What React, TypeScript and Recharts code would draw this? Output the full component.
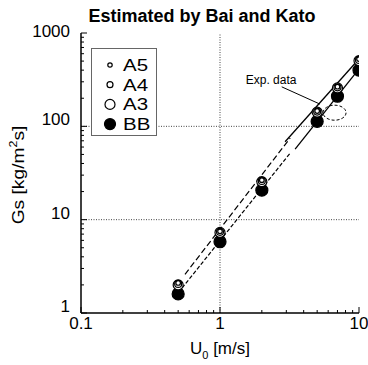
import React from "react";
import {
  ComposedChart,
  Legend,
  Line,
  ReferenceDot,
  ReferenceLine,
  XAxis,
  YAxis,
} from "recharts";

const FONT = "Arial, 'Liberation Sans', sans-serif";

// velocities U0 [m/s]
const U0 = [0.5, 1, 2, 5, 7, 10];
// mass flux Gs [kg/m2s]
const A5 = [2.1, 7.5, 26.5, 146, 266, 525];
const A4 = [2.05, 7.4, 26, 144, 262, 515];
const A3 = [2.0, 7.3, 25.5, 142, 258, 505];
const BB = [1.6, 5.8, 20.7, 113, 210, 400];

const X_TICKS = [0.1, 0.2, 0.3, 0.4, 0.5, 0.6, 0.7, 0.8, 0.9, 1, 2, 3, 4, 5, 6, 7, 8, 9, 10];
const Y_TICKS = [
  1, 2, 3, 4, 5, 6, 7, 8, 9, 10, 20, 30, 40, 50, 60, 70, 80, 90, 100, 200, 300, 400, 500,
  600, 700, 800, 900, 1000,
];
const X_LABELS = [0.1, 1, 10];
const Y_LABELS = [1, 10, 100, 1000];

// fitted correlation lines (end points)
const FIT_A_LOW = [{ x: 0.56, y: 2.6 }, { x: 3.2, y: 75 }];
const FIT_BB_LOW = [{ x: 0.533, y: 1.85 }, { x: 3.2, y: 51.7 }];
const FIT_A_HIGH = [{ x: 2.94, y: 68.4 }, { x: 9.84, y: 513 }];
const FIT_BB_HIGH = [{ x: 3.47, y: 57.1 }, { x: 9.84, y: 401 }];

// annotation
const EXP_LEADER = [{ x: 2.78, y: 265 }, { x: 5.24, y: 173 }];
const EXP_ELLIPSE = { x: 6.67, y: 140 };
const EXP_TEXT = { x: 2.33, y: 313, text: "Exp. data" };

const data = U0.map((u, i) => ({ u, a5: A5[i], a4: A4[i], a3: A3[i], bb: BB[i] }));

const SERIES = [
  { key: "a5", name: "A5", r: 2.3, lr: 2.2, fill: "#fff" },
  { key: "a4", name: "A4", r: 3.5, lr: 3, fill: "#fff" },
  { key: "a3", name: "A3", r: 5, lr: 5, fill: "#fff" },
  { key: "bb", name: "BB", r: 6, lr: 5.5, fill: "#000" },
];

const makeDot = (r: number, fill: string) => (p: any) => (
  <circle key={p.index} cx={p.cx} cy={p.cy} r={r} fill={fill} stroke="#000" strokeWidth={1.2} />
);

const isMajor = (v: number, list: number[]) => list.includes(v);

function BottomTick(p: any) {
  const v = p.payload.value;
  const major = isMajor(v, X_LABELS);
  return (
    <g>
      <line x1={p.x} y1={p.y} x2={p.x} y2={p.y - (major ? 6 : 3)} stroke="#000" />
      {major && (
        <text x={p.x} y={p.y + 16} textAnchor="middle" fontSize={17} fontFamily={FONT} fill="#000">
          {v}
        </text>
      )}
    </g>
  );
}

function TopTick(p: any) {
  const major = isMajor(p.payload.value, X_LABELS);
  return <line x1={p.x} y1={p.y} x2={p.x} y2={p.y + (major ? 6 : 3)} stroke="#000" />;
}

function LeftTick(p: any) {
  const v = p.payload.value;
  const major = isMajor(v, Y_LABELS);
  return (
    <g>
      <line x1={p.x} y1={p.y} x2={p.x + (major ? 6 : 3)} y2={p.y} stroke="#000" />
      {major && (
        <text
          x={p.x - 11}
          y={p.y + (v === 1000 ? 4 : -1)}
          textAnchor="end"
          fontSize={17}
          fontFamily={FONT}
          fill="#000"
        >
          {v}
        </text>
      )}
    </g>
  );
}

function RightTick(p: any) {
  const major = isMajor(p.payload.value, Y_LABELS);
  return <line x1={p.x} y1={p.y} x2={p.x - (major ? 6 : 3)} y2={p.y} stroke="#000" />;
}

function LegendBox() {
  const rowH = 19.7;
  return (
    <svg width={67} height={89} style={{ display: "block" }}>
      <rect x={0.5} y={0.5} width={65} height={87} fill="#fff" stroke="#666" strokeWidth={1} />
      {SERIES.map((s, i) => {
        const cy = 17 + i * rowH;
        return (
          <g key={s.key}>
            <circle cx={19} cy={cy} r={s.lr} fill={s.fill} stroke="#000" strokeWidth={1.2} />
            <text
              transform={`translate(32,${cy + 6}) scale(1.28,1)`}
              fontSize={16}
              fontFamily={FONT}
              fill="#000"
            >
              {s.name}
            </text>
          </g>
        );
      })}
    </svg>
  );
}

export default function App() {
  const axisLine = { stroke: "#000", strokeWidth: 1.5 };
  return (
    <div style={{ position: "absolute", left: 0, top: 0, width: 368, height: 365, background: "#fff" }}>
      <ComposedChart width={368} height={365} data={data} margin={{ top: 33, right: 9, bottom: 0, left: 0 }}>
        <XAxis
          dataKey="u"
          type="number"
          scale="log"
          domain={[0.1, 10]}
          ticks={X_TICKS}
          interval={0}
          tickSize={0}
          tickMargin={0}
          tickLine={false}
          tick={<BottomTick />}
          axisLine={axisLine}
          height={52}
          allowDataOverflow
        />
        <XAxis
          xAxisId="top"
          orientation="top"
          type="number"
          scale="log"
          domain={[0.1, 10]}
          ticks={X_TICKS}
          interval={0}
          tickSize={0}
          tickMargin={0}
          tickLine={false}
          tick={<TopTick />}
          axisLine={axisLine}
          height={0}
          allowDataOverflow
        />
        <YAxis
          type="number"
          scale="log"
          domain={[1, 1000]}
          ticks={Y_TICKS}
          interval={0}
          tickSize={0}
          tickMargin={0}
          tickLine={false}
          tick={<LeftTick />}
          axisLine={axisLine}
          width={81}
          allowDataOverflow
        />
        <YAxis
          yAxisId="right"
          orientation="right"
          type="number"
          scale="log"
          domain={[1, 1000]}
          ticks={Y_TICKS}
          interval={0}
          tickSize={0}
          tickMargin={0}
          tickLine={false}
          tick={<RightTick />}
          axisLine={axisLine}
          width={0}
          allowDataOverflow
        />

        <ReferenceLine x={1} stroke="#444" strokeDasharray="1 1.5" />
        <ReferenceLine y={10} stroke="#444" strokeDasharray="1 1.5" />
        <ReferenceLine y={100} stroke="#444" strokeDasharray="1 1.5" />

        <ReferenceLine segment={FIT_A_LOW} stroke="#000" strokeWidth={1.2} strokeDasharray="6 3" />
        <ReferenceLine segment={FIT_BB_LOW} stroke="#000" strokeWidth={1.2} strokeDasharray="4 2" />
        <ReferenceLine segment={FIT_A_HIGH} stroke="#000" strokeWidth={1.3} />
        <ReferenceLine segment={FIT_BB_HIGH} stroke="#000" strokeWidth={1.3} />
        <ReferenceLine segment={EXP_LEADER} stroke="#000" strokeWidth={1} />
        <ReferenceDot
          x={EXP_ELLIPSE.x}
          y={EXP_ELLIPSE.y}
          r={1}
          shape={(p: any) => (
            <ellipse cx={p.cx} cy={p.cy} rx={11.5} ry={7.5} fill="none" stroke="#000" strokeDasharray="3 2" />
          )}
        />
        <ReferenceDot
          x={EXP_TEXT.x}
          y={EXP_TEXT.y}
          r={1}
          shape={(p: any) => (
            <text x={p.cx} y={p.cy + 4} textAnchor="middle" fontSize={12} fontFamily={FONT} fill="#000">
              {EXP_TEXT.text}
            </text>
          )}
        />

        {[...SERIES].reverse().map((s) => (
          <Line
            key={s.key}
            dataKey={s.key}
            name={s.name}
            stroke="none"
            dot={makeDot(s.r, s.fill)}
            activeDot={false}
            isAnimationActive={false}
          />
        ))}

        <Legend
          layout="vertical"
          align="center"
          verticalAlign="middle"
          wrapperStyle={{ left: 91, top: 48, width: 67 }}
          content={() => <LegendBox />}
        />
      </ComposedChart>
      <svg style={{ position: "absolute", left: 0, top: 0, pointerEvents: "none" }} width={368} height={365}>
        <text fontFamily={FONT} fontSize={18} fontWeight="bold" textAnchor="middle" x={202} y={22}>
          Estimated by Bai and Kato
        </text>
        <text fontFamily={FONT} fontSize={17} textAnchor="middle" x={220} y={354}>
          U<tspan fontSize={11} dy={5}>0</tspan>
          <tspan dy={-5}> [m/s]</tspan>
        </text>
        <text
          fontFamily={FONT}
          fontSize={17}
          textAnchor="middle"
          transform="translate(24,175) rotate(-90) scale(1.13,1)"
        >
          Gs [kg/m<tspan fontSize={11} dy={-7}>2</tspan>
          <tspan dy={7}>s]</tspan>
        </text>
      </svg>
    </div>
  );
}
